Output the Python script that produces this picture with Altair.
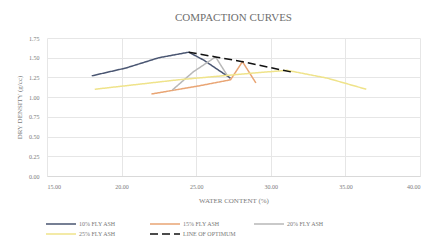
import altair as alt
import pandas as pd

series_names = ["10% FLY ASH", "15% FLY ASH", "20% FLY ASH", "25% FLY ASH", "LINE OF OPTIMUM"]
colors = ["#4A5672", "#E9A574", "#B8B8B8", "#EFE38A", "#111111"]

w10 = [18.0, 20.3, 22.5, 24.5, 25.5, 27.3]
d10 = [1.27, 1.37, 1.50, 1.57, 1.47, 1.24]
w15 = [22.0, 25.1, 27.3, 28.1, 29.0]
d15 = [1.04, 1.14, 1.22, 1.45, 1.18]
w20 = [23.4, 24.8, 26.3, 27.1]
d20 = [1.09, 1.32, 1.51, 1.27]
w25 = [18.2, 23.8, 29.1, 31.1, 33.8, 36.4]
d25 = [1.10, 1.22, 1.31, 1.34, 1.24, 1.10]
wopt = [24.5, 26.3, 28.1, 31.6]
dopt = [1.57, 1.51, 1.45, 1.31]

x_ticks = [15, 20, 25, 30, 35, 40]
y_ticks = [0, 0.25, 0.5, 0.75, 1.0, 1.25, 1.5, 1.75]

rows = []
for name, ws, ds in zip(series_names, [w10, w15, w20, w25, wopt], [d10, d15, d20, d25, dopt]):
    for i, (w, d) in enumerate(zip(ws, ds)):
        rows.append({"series": name, "water": w, "density": d, "idx": i})
df = pd.DataFrame(rows)

font = "Liberation Serif"
txt = "#7a7a7a"

chart = alt.Chart(df).mark_line(strokeCap="butt").encode(
    x=alt.X("water:Q", scale=alt.Scale(domain=[15, 40], nice=False),
            axis=alt.Axis(values=x_ticks, format=".2f", title="WATER CONTENT (%)",
                          grid=True, gridColor="#e6e6e6", domain=True, domainColor="#d9d9d9",
                          ticks=False, labelFontSize=6, labelColor=txt, labelFont=font,
                          labelPadding=7, titleFontSize=7, titleFont=font, titleColor=txt,
                          titleFontWeight="normal", titlePadding=7)),
    y=alt.Y("density:Q", scale=alt.Scale(domain=[0, 1.75], nice=False),
            axis=alt.Axis(values=y_ticks, format=".2f", title="DRY DENSITY (g/cc)",
                          grid=True, gridColor="#e6e6e6", domain=False,
                          ticks=False, labelFontSize=6, labelColor=txt, labelFont=font,
                          labelPadding=8, titleFontSize=7, titleFont=font, titleColor=txt,
                          titleFontWeight="normal", titlePadding=6)),
    color=alt.Color("series:N", scale=alt.Scale(domain=series_names, range=colors),
                    legend=alt.Legend(title=None, orient="none", legendX=8, legendY=180,
                                      direction="horizontal", gridAlign="all",
                                      columns=3, symbolType="M-3,0L3,0", symbolSize=100,
                                      symbolStrokeWidth=1.5, labelFontSize=6, labelFont=font,
                                      labelColor=txt, columnPadding=15, rowPadding=1,
                                      labelOffset=12, padding=0)),
    strokeDash=alt.StrokeDash("series:N", scale=alt.Scale(domain=series_names,
                              range=[[1, 0], [1, 0], [1, 0], [1, 0], [8, 4]]), legend=None),
    strokeWidth=alt.StrokeWidth("series:N", scale=alt.Scale(domain=series_names,
                                range=[1.5, 1.5, 1.5, 1.5, 3]), legend=None),
    order="idx:Q",
).properties(
    width=373, height=138,
    title=alt.TitleParams("COMPACTION CURVES", font=font, fontSize=11, color="#6e6e6e",
                          fontWeight="normal", anchor="middle", offset=12),
    autosize=alt.AutoSizeParams(type="none"),
    padding={"left": 39, "top": 30, "right": 6, "bottom": 62},
).configure_view(stroke=None)

chart.save("out.html", embed_options={"renderer": "svg", "actions": False})
